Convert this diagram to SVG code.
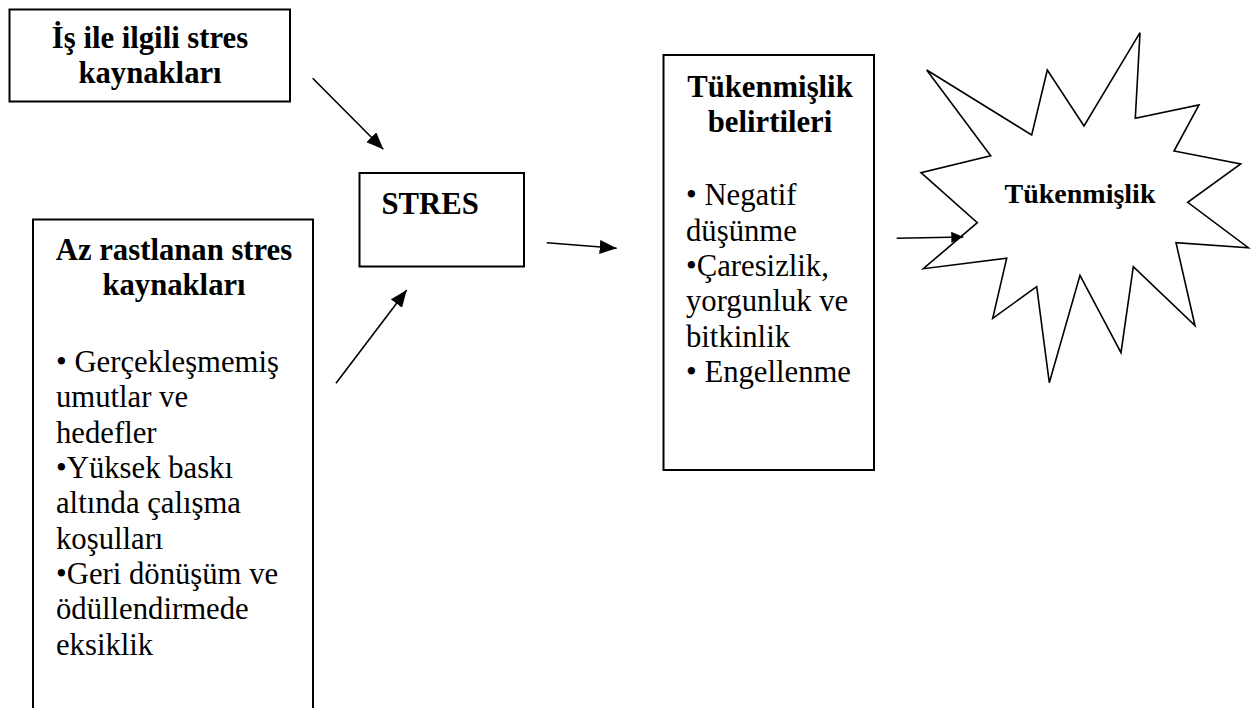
<svg xmlns="http://www.w3.org/2000/svg" width="1257" height="708" viewBox="0 0 1257 708">
<style>
.box{fill:#fff;stroke:#000;stroke-width:2}
.t{font-family:"Liberation Serif","Times New Roman",serif;fill:#000}
.b{font-weight:bold;font-size:30.7px;text-anchor:middle}
.r{font-size:30.7px}
.ln{stroke:#000;stroke-width:1.6;fill:none}
</style>
<defs>
<marker id="ah" markerUnits="userSpaceOnUse" markerWidth="18" markerHeight="14" refX="17" refY="7" orient="auto">
<path d="M0,0 L17,7 L0,14 z" fill="#000"/>
</marker>
<marker id="ah2" markerUnits="userSpaceOnUse" markerWidth="13" markerHeight="11" refX="12" refY="5.5" orient="auto">
<path d="M0,0 L12,5.5 L0,11 z" fill="#000"/>
</marker>
</defs>
<rect width="1257" height="708" fill="#fff"/>
<g id="is-stres">
<rect class="box" x="9.5" y="9.5" width="280.5" height="92"/>
<text class="t b" x="150" y="48">İş ile ilgili stres</text>
<text class="t b" x="150" y="83">kaynakları</text>
</g>
<g id="az-rastlanan">
<rect class="box" x="33" y="219.5" width="280" height="500"/>
<text class="t b" x="174" y="260">Az rastlanan stres</text>
<text class="t b" x="174" y="294.5">kaynakları</text>
<text class="t r" x="56" y="372">• Gerçekleşmemiş</text>
<text class="t r" x="56" y="407">umutlar ve</text>
<text class="t r" x="56" y="442.5">hedefler</text>
<text class="t r" x="56" y="478">•Yüksek baskı</text>
<text class="t r" x="56" y="513">altında çalışma</text>
<text class="t r" x="56" y="548.5">koşulları</text>
<text class="t r" x="56" y="584">•Geri dönüşüm ve</text>
<text class="t r" x="56" y="619">ödüllendirmede</text>
<text class="t r" x="56" y="654.5">eksiklik</text>
</g>
<g id="stres">
<rect class="box" x="359.5" y="173" width="164.5" height="93.5"/>
<text class="t" x="381.5" y="214" font-weight="bold" font-size="30.7px">STRES</text>
</g>
<g id="belirtiler">
<rect class="box" x="663.5" y="55" width="210.5" height="415"/>
<text class="t b" x="770" y="96.5">Tükenmişlik</text>
<text class="t b" x="770" y="131.5">belirtileri</text>
<text class="t r" x="686" y="205">• Negatif</text>
<text class="t r" x="686" y="240.5">düşünme</text>
<text class="t r" x="686" y="276">•Çaresizlik,</text>
<text class="t r" x="686" y="311">yorgunluk ve</text>
<text class="t r" x="686" y="346.5">bitkinlik</text>
<text class="t r" x="686" y="382">• Engellenme</text>
</g>
<g id="tukenmislik">
<polygon fill="#fff" stroke="#000" stroke-width="1.6" stroke-linejoin="miter" points="926.7,70 1031.7,135 1047.3,70 1084,126 1140,32.7 1135.3,118.3 1199,105 1174,151 1240.7,164 1187.7,202.3 1248.3,247.7 1176,242.7 1195,325.7 1133.3,266.7 1121,352.7 1080,275.3 1049.3,382.7 1036.7,286.7 992.7,318.3 1006.7,258.3 923.3,268.7 977.3,222.7 921,172.7 990.7,155.7"/>
<text class="t" x="1080" y="203" font-weight="bold" font-size="28px" text-anchor="middle">Tükenmişlik</text>
</g>
<g id="connectors">
<line class="ln" x1="312.7" y1="78.3" x2="383.3" y2="149.3" marker-end="url(#ah)"/>
<line class="ln" x1="336" y1="383.3" x2="406.7" y2="290" marker-end="url(#ah)"/>
<line class="ln" x1="546.7" y1="242.7" x2="616.7" y2="248.3" marker-end="url(#ah)"/>
<line class="ln" x1="896.7" y1="238.3" x2="963.3" y2="237" marker-end="url(#ah2)"/>
</g>
</svg>
